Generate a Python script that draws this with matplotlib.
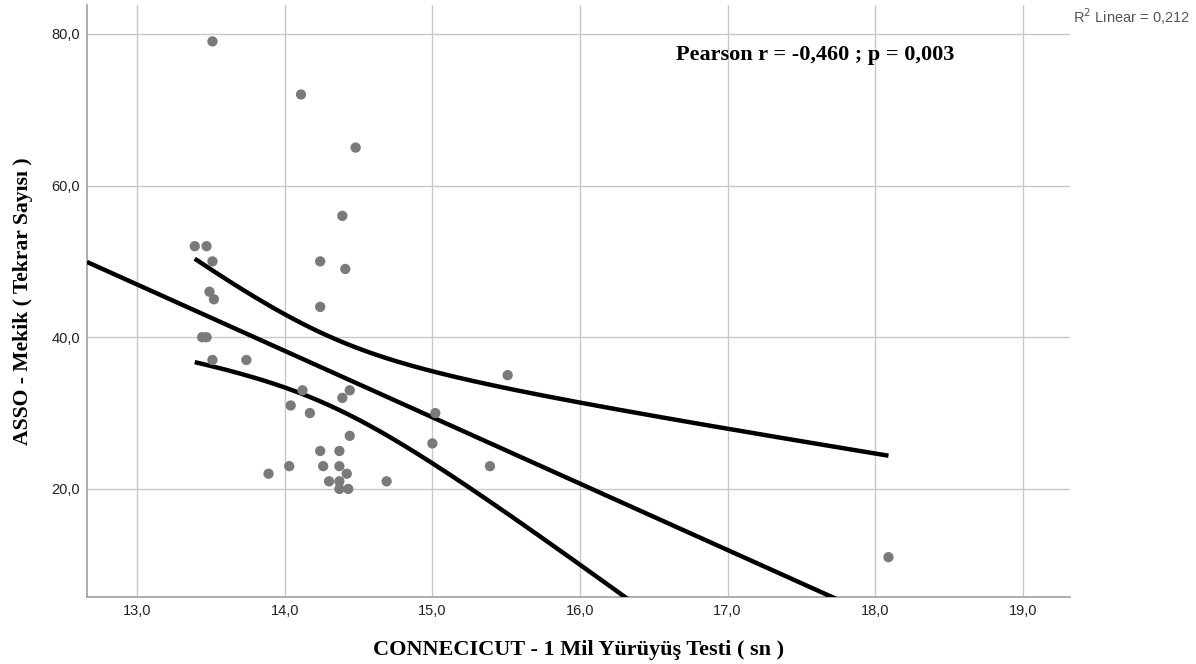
import numpy as np
import matplotlib
matplotlib.use("Agg")
import matplotlib.pyplot as plt
from matplotlib.ticker import FuncFormatter

# Data
walk_time = [13.51, 14.11, 14.48, 14.39, 13.39, 13.47, 13.51, 14.24, 14.41, 13.49,
             13.52, 14.24, 13.44, 13.47, 13.51, 13.74, 15.51, 14.12, 14.44, 14.39,
             14.04, 14.17, 15.02, 14.44, 15.00, 14.24, 14.37, 14.03, 14.26, 14.37,
             15.39, 13.89, 14.42, 14.30, 14.37, 14.69, 14.37, 14.43, 18.09]
situps = [79, 72, 65, 56, 52, 52, 50, 50, 49, 46,
          45, 44, 40, 40, 37, 37, 35, 33, 33, 32,
          31, 30, 30, 27, 26, 25, 25, 23, 23, 23,
          23, 22, 22, 21, 21, 21, 20, 20, 11]
x_ticks = [13, 14, 15, 16, 17, 18, 19]
y_ticks = [20, 40, 60, 80]

x = np.array(walk_time)
y = np.array(situps)
n = len(x)
b1, b0 = np.polyfit(x, y, 1)
resid = y - (b0 + b1 * x)
s = np.sqrt(np.sum(resid ** 2) / (n - 2))
t_crit = 2.026
xm = x.mean()
sxx = np.sum((x - xm) ** 2)

fig = plt.figure(figsize=(11.96, 6.64), dpi=100)
ax = fig.add_axes([87 / 1196, 67 / 664, (1070 - 87) / 1196, (597 - 5) / 664])
xlim = (12.66, 19.32)
ylim = (5.75, 83.8)
ax.set_xlim(*xlim)
ax.set_ylim(*ylim)

# fit line across full range
xf = np.linspace(xlim[0], xlim[1], 200)
ax.plot(xf, b0 + b1 * xf, color="black", lw=3.2, zorder=3, solid_capstyle="butt")
# confidence bands over data range
xc = np.linspace(x.min(), x.max(), 200)
se = s * np.sqrt(1 / n + (xc - xm) ** 2 / sxx)
ax.plot(xc, b0 + b1 * xc + t_crit * se, color="black", lw=3.2, zorder=3, solid_capstyle="butt")
ax.plot(xc, b0 + b1 * xc - t_crit * se, color="black", lw=3.2, zorder=3, solid_capstyle="butt")

ax.scatter(x, y, s=55, color="#7a7a7a", edgecolors="none", zorder=4)

ax.set_xticks(x_ticks)
ax.set_yticks(y_ticks)
fmt = FuncFormatter(lambda v, p: f"{v:.1f}".replace(".", ","))
ax.xaxis.set_major_formatter(fmt)
ax.yaxis.set_major_formatter(fmt)
ax.grid(True, color="#c8c8c8", lw=1)
ax.set_axisbelow(True)
ax.tick_params(axis="x", length=0, labelsize=10.5, colors="#222222", pad=5)
ax.tick_params(axis="y", length=0, labelsize=10.5, colors="#222222", pad=5)
for lab in ax.get_xticklabels() + ax.get_yticklabels():
    lab.set_fontfamily("Liberation Sans")
for sp in ["top", "right"]:
    ax.spines[sp].set_visible(False)
for sp in ["left", "bottom"]:
    ax.spines[sp].set_color("#a0a0a0")
    ax.spines[sp].set_linewidth(1.2)

ax.set_xlabel("CONNECICUT - 1 Mil Yürüyüş Testi ( sn )", fontfamily="Liberation Serif",
              fontweight="bold", fontsize=16, labelpad=16)
ax.set_ylabel("ASSO - Mekik ( Tekrar Sayısı )", fontfamily="Liberation Serif",
              fontweight="bold", fontsize=15.6, labelpad=13)

ax.text(0.5995, 0.915, "Pearson r = -0,460 ; p = 0,003", transform=ax.transAxes,
        fontfamily="Liberation Serif", fontweight="bold", fontsize=16, ha="left", va="center")

fig.text(1190 / 1196, 1 - 17 / 664, r"R$^2$ Linear = 0,212", ha="right", va="center",
         fontfamily="Liberation Sans", fontsize=10.5, color="#555555")

fig.savefig("out.png", dpi=100)
